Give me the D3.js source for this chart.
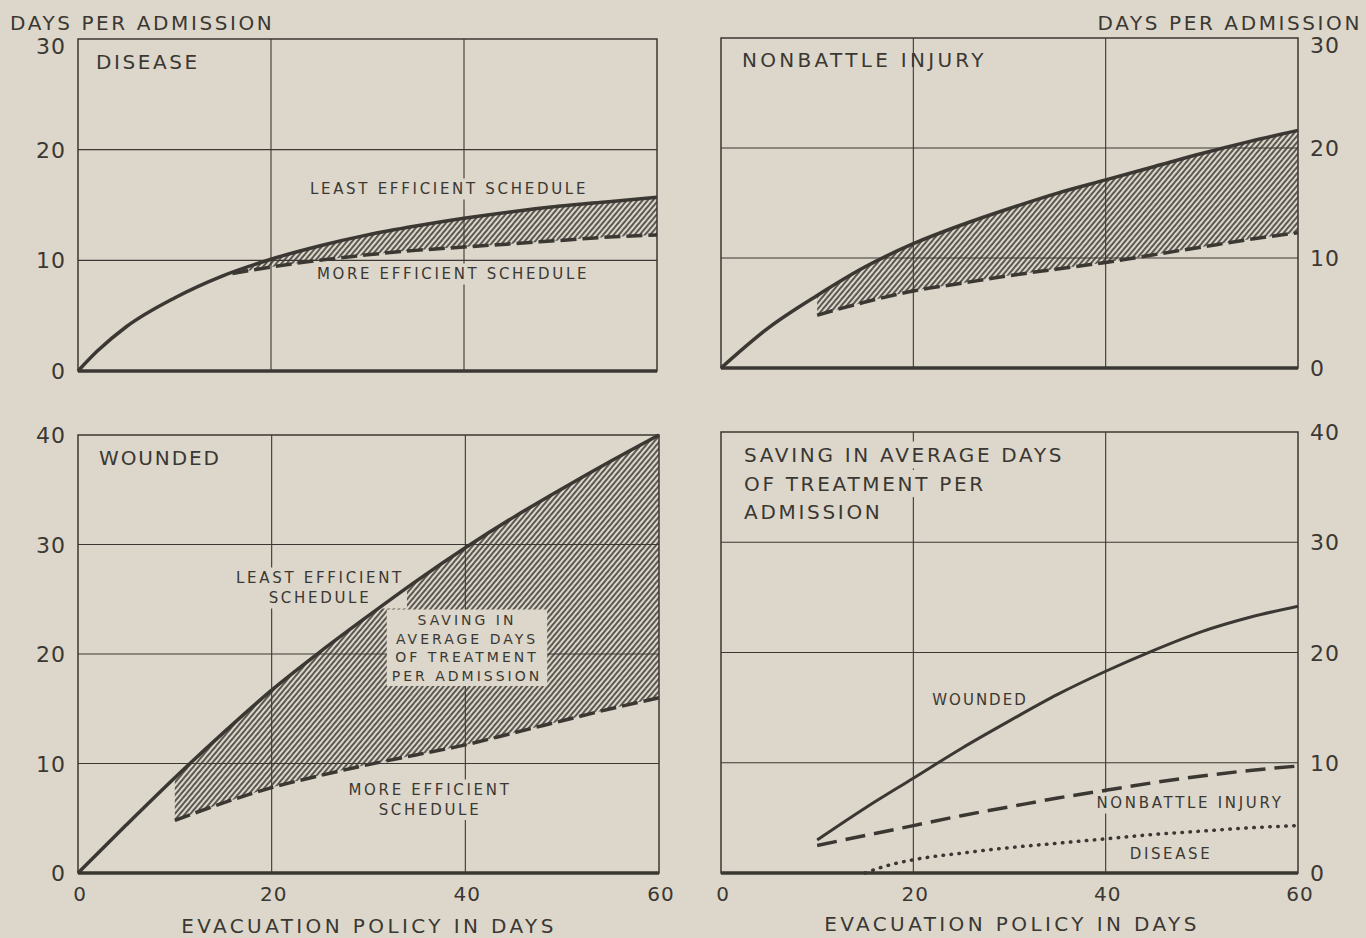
<!DOCTYPE html>
<html lang="en">
<head>
    <meta charset="UTF-8">
    <title>Days per Admission by Evacuation Policy</title>
    <script src="https://d3js.org/d3.v7.min.js"></script>
    <style>
        html, body { margin: 0; padding: 0; background: #dcd7ca; }
        svg { display: block; }
        text { font-family: "DejaVu Sans", sans-serif; fill: #3b3733; }
    </style>
</head>
<body>
<script>
    var w = 1366;
    var h = 938;
    var ink = "#3b3733";
    var paper = "#dcd7ca";

    // x ticks (evacuation policy in days) and y ticks
    var xTicks = [0, 20, 40, 60];
    var yTicksTop = [0, 10, 20, 30];
    var yTicksBottom = [0, 10, 20, 30, 40];

    // Disease
    var diseaseDays = [0, 2, 5, 10, 15, 20, 25, 30, 35, 40, 45, 50, 55, 60];
    var diseaseLeast = [0, 1.8, 4.0, 6.6, 8.6, 10.1, 11.3, 12.3, 13.1, 13.8, 14.4, 14.9, 15.3, 15.7];
    var diseaseMoreDays = [16, 20, 25, 30, 35, 40, 45, 50, 55, 60];
    var diseaseMore = [8.8, 9.4, 10.0, 10.5, 10.9, 11.2, 11.5, 11.8, 12.1, 12.3];

    // Nonbattle injury
    var nbiDays = [0, 5, 10, 15, 20, 25, 30, 35, 40, 45, 50, 55, 60];
    var nbiLeast = [0, 3.7, 6.6, 9.2, 11.3, 13.0, 14.5, 15.9, 17.1, 18.3, 19.5, 20.6, 21.6];
    var nbiMoreDays = [10, 15, 20, 25, 30, 35, 40, 45, 50, 55, 60];
    var nbiMore = [4.8, 6.0, 7.0, 7.7, 8.4, 9.0, 9.6, 10.3, 11.0, 11.7, 12.3];

    // Wounded
    var woundedDays = [0, 5, 10, 15, 20, 25, 30, 35, 40, 45, 50, 55, 60];
    var woundedLeast = [0, 4.4, 8.7, 12.8, 16.7, 20.2, 23.5, 26.7, 29.7, 32.5, 35.1, 37.6, 40.0];
    var woundedMoreDays = [10, 15, 20, 25, 30, 35, 40, 45, 50, 55, 60];
    var woundedMore = [4.8, 6.4, 7.8, 8.9, 9.9, 10.8, 11.7, 12.8, 13.9, 15.0, 16.0];

    // Saving in average days of treatment per admission
    var savingDays = [10, 15, 20, 25, 30, 35, 40, 45, 50, 55, 60];
    var savingWounded = [3.0, 5.9, 8.6, 11.3, 13.8, 16.2, 18.3, 20.2, 21.9, 23.2, 24.2];
    var savingNbi = [2.5, 3.4, 4.3, 5.2, 6.0, 6.8, 7.5, 8.2, 8.8, 9.3, 9.7];
    var savingDiseaseDays = [15, 17, 20, 25, 30, 35, 40, 45, 50, 55, 60];
    var savingDisease = [0, 0.6, 1.2, 1.8, 2.3, 2.7, 3.1, 3.5, 3.8, 4.1, 4.3];

    function zip(xs, ys) {
        return xs.map(function(d, i) { return { x: d, y: ys[i] }; });
    }

    var svg = d3.select("body")
        .append("svg")
        .attr("width", w)
        .attr("height", h);

    svg.append("rect").attr("width", w).attr("height", h).attr("fill", paper);

    // hatch pattern for the area between the two schedules
    svg.append("defs")
        .append("pattern")
        .attr("id", "hatch")
        .attr("patternUnits", "userSpaceOnUse")
        .attr("width", 4)
        .attr("height", 10)
        .attr("patternTransform", "rotate(40)")
        .append("line")
        .attr("x1", 1).attr("y1", 0)
        .attr("x2", 1).attr("y2", 10)
        .attr("stroke", ink)
        .attr("stroke-width", 1.6);

    // drawing layers
    var gridLayer = svg.append("g");
    var bandLayer = svg.append("g");
    var labelLayer = svg.append("g");
    var lineLayer = svg.append("g");

    function makePanel(p) {
        var x = d3.scaleLinear().domain([0, 60]).range([p.left, p.right]);
        var y = d3.scaleLinear().domain([0, p.yMax]).range([p.bottom, p.top]);
        var g = gridLayer.append("g");

        // grid
        g.selectAll(".vgrid")
            .data([20, 40])
            .enter()
            .append("line")
            .attr("x1", function(d) { return x(d); })
            .attr("x2", function(d) { return x(d); })
            .attr("y1", p.top)
            .attr("y2", p.bottom)
            .attr("stroke", ink)
            .attr("stroke-width", 1.1);

        g.selectAll(".hgrid")
            .data(p.yTicks.filter(function(d) { return d > 0 && d < p.yMax; }))
            .enter()
            .append("line")
            .attr("x1", p.left)
            .attr("x2", p.right)
            .attr("y1", function(d) { return y(d); })
            .attr("y2", function(d) { return y(d); })
            .attr("stroke", ink)
            .attr("stroke-width", 1.1);

        // frame
        lineLayer.append("rect")
            .attr("x", p.left)
            .attr("y", p.top)
            .attr("width", p.right - p.left)
            .attr("height", p.bottom - p.top)
            .attr("fill", "none")
            .attr("stroke", ink)
            .attr("stroke-width", 1.5);

        // heavy baseline
        lineLayer.append("line")
            .attr("x1", p.left).attr("x2", p.right)
            .attr("y1", y(0)).attr("y2", y(0))
            .attr("stroke", ink)
            .attr("stroke-width", 3.5);

        // y tick labels (top label sits a little below the frame)
        g.selectAll(".ytick")
            .data(p.yTicks)
            .enter()
            .append("text")
            .attr("x", p.side === "left" ? p.left - 12 : p.right + 12)
            .attr("y", function(d) { return y(d) + 8 + (d === p.yMax && p.yMax === 30 ? 7 : 0); })
            .attr("text-anchor", p.side === "left" ? "end" : "start")
            .attr("font-size", 22)
            .attr("letter-spacing", 1)
            .text(function(d) { return d; });

        return { x: x, y: y };
    }

    function drawBand(panel, lowPts, highPts) {
        var area = d3.area()
            .x(function(d) { return panel.x(d.x); })
            .y0(function(d) { return panel.y(d.lo); })
            .y1(function(d) { return panel.y(d.hi); })
            .curve(d3.curveMonotoneX);
        var hiFn = d3.scaleLinear().domain(highPts.map(function(d) { return d.x; }))
            .range(highPts.map(function(d) { return d.y; }));
        var pts = lowPts.map(function(d) { return { x: d.x, lo: d.y, hi: hiFn(d.x) }; });
        bandLayer.append("path")
            .datum(pts)
            .attr("d", area)
            .attr("fill", "url(#hatch)");
    }

    function drawLine(panel, pts, dash, width, round) {
        var line = d3.line()
            .x(function(d) { return panel.x(d.x); })
            .y(function(d) { return panel.y(d.y); })
            .curve(d3.curveMonotoneX);
        lineLayer.append("path")
            .datum(pts)
            .attr("d", line)
            .attr("fill", "none")
            .attr("stroke", ink)
            .attr("stroke-width", width || 3.5)
            .attr("stroke-linecap", round ? "round" : "butt")
            .attr("stroke-dasharray", dash || null);
    }

    function label(lines, cx, cy, size, anchor, spacing, lineH, bg) {
        var gl = labelLayer.append("g");
        var t = gl.append("text")
            .attr("x", cx)
            .attr("y", cy)
            .attr("text-anchor", anchor)
            .attr("font-size", size)
            .attr("letter-spacing", spacing);
        lines.forEach(function(s, i) {
            t.append("tspan").attr("x", cx).attr("dy", i === 0 ? 0 : lineH).text(s);
        });
        if (bg) {
            var b = t.node().getBBox();
            gl.insert("rect", "text")
                .attr("x", b.x - bg).attr("y", b.y - bg / 2)
                .attr("width", b.width + 2 * bg).attr("height", b.height + bg)
                .attr("fill", paper);
        }
        return gl;
    }

    // ---- Panel 1: Disease
    var p1 = makePanel({ left: 78, right: 657, top: 39, bottom: 371, yMax: 30, yTicks: yTicksTop, side: "left" });
    drawBand(p1, zip(diseaseMoreDays, diseaseMore), zip(diseaseDays, diseaseLeast));
    drawLine(p1, zip(diseaseMoreDays, diseaseMore), "16 6");
    drawLine(p1, zip(diseaseDays, diseaseLeast));

    // ---- Panel 2: Nonbattle injury
    var p2 = makePanel({ left: 721, right: 1298, top: 38, bottom: 368, yMax: 30, yTicks: yTicksTop, side: "right" });
    drawBand(p2, zip(nbiMoreDays, nbiMore), zip(nbiDays, nbiLeast));
    drawLine(p2, zip(nbiMoreDays, nbiMore), "16 6");
    drawLine(p2, zip(nbiDays, nbiLeast));

    // ---- Panel 3: Wounded
    var p3 = makePanel({ left: 78, right: 659, top: 435, bottom: 873, yMax: 40, yTicks: yTicksBottom, side: "left" });
    drawBand(p3, zip(woundedMoreDays, woundedMore), zip(woundedDays, woundedLeast));
    drawLine(p3, zip(woundedMoreDays, woundedMore), "16 6");
    drawLine(p3, zip(woundedDays, woundedLeast));

    // ---- Panel 4: Saving
    var p4 = makePanel({ left: 721, right: 1298, top: 432, bottom: 873, yMax: 40, yTicks: yTicksBottom, side: "right" });
    drawLine(p4, zip(savingDays, savingWounded), null, 3);
    drawLine(p4, zip(savingDays, savingNbi), "20 9", 3.5);
    drawLine(p4, zip(savingDiseaseDays, savingDisease), "0.5 7.5", 3.5, true);

    // x tick labels
    [p3, p4].forEach(function(p) {
        gridLayer.append("g").selectAll("text")
            .data(xTicks)
            .enter()
            .append("text")
            .attr("x", function(d) { return p.x(d) + 2; })
            .attr("y", 901)
            .attr("text-anchor", "middle")
            .attr("font-size", 20)
            .attr("letter-spacing", 1)
            .text(function(d) { return d; });
    });

    // axis titles
    label(["DAYS PER ADMISSION"], 10, 30, 20, "start", 2.6, 0);
    label(["DAYS PER ADMISSION"], 1362, 30, 20, "end", 2.6, 0);
    label(["EVACUATION POLICY IN DAYS"], 369, 933, 20, "middle", 3.4, 0);
    label(["EVACUATION POLICY IN DAYS"], 1012, 931, 20, "middle", 3.4, 0);

    // panel titles
    label(["DISEASE"], 96, 69, 20, "start", 2.6, 0);
    label(["NONBATTLE INJURY"], 742, 67, 20, "start", 3.3, 0);
    label(["WOUNDED"], 99, 465, 20, "start", 1.9, 0);
    label(["SAVING IN AVERAGE DAYS"], 744, 462, 20, "start", 2.7, 0, 3);
    label(["OF TREATMENT PER"], 744, 490.5, 20, "start", 2.7, 0, 3);
    label(["ADMISSION"], 744, 519, 20, "start", 2.7, 0, 3);

    // curve labels
    label(["LEAST EFFICIENT SCHEDULE"], 449, 194, 15, "middle", 2.7, 0, 3);
    label(["MORE EFFICIENT SCHEDULE"], 453, 279, 15, "middle", 2.65, 0, 3);
    label(["LEAST EFFICIENT", "SCHEDULE"], 320, 583, 15, "middle", 2.7, 20, 3);
    label(["SAVING IN", "AVERAGE DAYS", "OF TREATMENT", "PER ADMISSION"], 467, 625, 14, "middle", 3.0, 18.5, 5);
    label(["MORE EFFICIENT", "SCHEDULE"], 430, 795, 15, "middle", 2.7, 19.5, 3);
    label(["WOUNDED"], 980, 705, 15, "middle", 2.0, 0, 3);
    label(["NONBATTLE INJURY"], 1190, 808, 15, "middle", 2.7, 0, 3);
    label(["DISEASE"], 1171, 859, 15, "middle", 2.6, 0, 3);
</script>
</body>
</html>
